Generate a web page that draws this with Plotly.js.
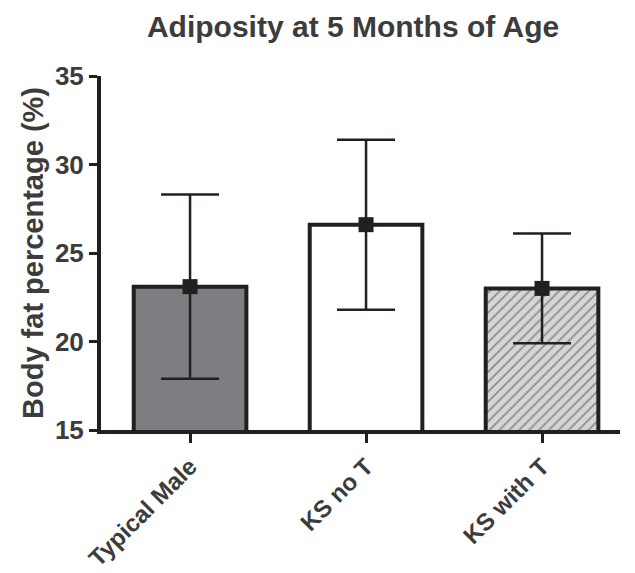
<!DOCTYPE html>
<html>
<head>
<meta charset="utf-8">
<script src="https://cdn.plot.ly/plotly-3.0.1.min.js"></script>
<style>html,body{margin:0;padding:0;background:#fff;}#chart{width:635px;height:573px;}</style>
</head>
<body>
<div id="chart"></div>
<script>
const categories = ['Typical Male', 'KS no T', 'KS with T'];
const meanValues = [23.1, 26.6, 23.0];
const sdValues = [5.2, 4.8, 3.1];
const yTickValues = [15, 20, 25, 30, 35];

const ink = '#231f20';
const textColor = '#3c3c3c';
const font = 'Liberation Sans, Arial, Helvetica, sans-serif';

const bars = {
  type: 'bar',
  x: categories,
  y: meanValues,
  width: 0.64,
  marker: {
    color: ['#7d7e81', '#ffffff', '#d6d6d6'],
    line: {color: ink, width: 4},
    pattern: {
      shape: ['', '', '/'],
      fillmode: 'overlay',
      fgcolor: '#333333',
      size: 7,
      solidity: 0.25
    }
  },
  hoverinfo: 'skip',
  showlegend: false
};

const points = {
  type: 'scatter',
  mode: 'markers',
  x: categories,
  y: meanValues,
  marker: {symbol: 'square', size: 15, color: ink},
  error_y: {
    type: 'data',
    array: sdValues,
    visible: true,
    color: ink,
    thickness: 2.5,
    width: 29
  },
  cliponaxis: false,
  showlegend: false
};

const layout = {
  width: 635,
  height: 573,
  margin: {l: 101, r: 15, t: 76, b: 143},
  paper_bgcolor: '#ffffff',
  plot_bgcolor: '#ffffff',
  font: {family: font, color: textColor},
  title: {
    text: '<b>Adiposity at 5 Months of Age</b>',
    font: {family: font, size: 30, color: textColor},
    x: 0.556, xanchor: 'center',
    y: 0.953, yanchor: 'middle', yref: 'container'
  },
  xaxis: {
    type: 'category',
    range: [-0.506, 2.443],
    showline: true,
    linecolor: ink,
    linewidth: 4,
    ticks: 'outside',
    ticklen: 9,
    tickwidth: 3,
    tickcolor: ink,
    tickangle: -45,
    tickfont: {family: font, size: 24, color: textColor},
    showgrid: false,
    zeroline: false,
    fixedrange: true
  },
  yaxis: {
    range: [15, 35],
    tickvals: yTickValues,
    ticktext: yTickValues.map(v => '<b>' + v + '</b>'),
    showline: true,
    linecolor: ink,
    linewidth: 4,
    ticks: 'outside',
    ticklen: 8,
    tickwidth: 3,
    tickcolor: ink,
    tickfont: {family: font, size: 26, color: textColor},
    showgrid: false,
    zeroline: false,
    title: {
      text: '<b>Body fat percentage (%)</b>',
      font: {family: font, size: 29, color: textColor},
      standoff: 4
    },
    fixedrange: true
  },
  bargap: 0.36
};

layout.xaxis.ticktext = categories.map(c => '<b>' + c + '</b>');
layout.xaxis.tickvals = categories;

Plotly.newPlot('chart', [bars, points], layout, {displayModeBar: false, staticPlot: true});
</script>
</body>
</html>
